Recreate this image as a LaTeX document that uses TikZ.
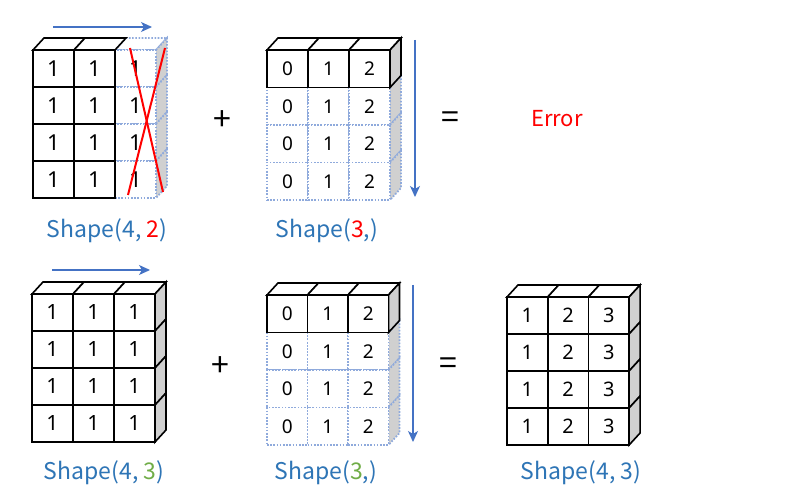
\documentclass[tikz,border=0pt]{standalone}
\usepackage{fontspec}
\setmainfont{Noto Sans CJK KR}
\newfontfamily\digitfont{Noto Sans}
\usetikzlibrary{arrows.meta}
\definecolor{lblue}{RGB}{46,117,182}
\definecolor{arrblue}{RGB}{68,114,196}
\definecolor{dotblue}{RGB}{143,170,220}
\definecolor{sidegray}{RGB}{208,208,208}
\definecolor{okgreen}{RGB}{112,173,71}
\newcommand{\cellfont}{\digitfont\fontsize{19}{19}\selectfont}
% #1 name, #2 x, #3 y, #4 w, #5 h, #6 text, #7 line style, #8 top flag, #9 side flag
\newcommand{\cubecell}[9]{%
  \ifnum#8=1 \draw[#7, fill=white] (#2,#3) -- ++(11,-12) -- ++(#4,0) -- ++(-11,12) -- cycle;\fi
  \ifnum#9=1 \draw[#7, fill=sidegray] ({#2+#4},#3) -- ++(11,-12) -- ++(0,#5) -- ++(-11,12) -- cycle;\fi
  \node[cellbox, #7, minimum width=#4pt, minimum height=#5pt] (#1) at (#2,#3) {#6};%
}
\begin{document}
\begin{tikzpicture}[x=1pt,y=-1pt,
  solidln/.style={draw=black, line width=1.6pt, line join=miter},
  dotln/.style={draw=dotblue, line width=1.8pt, dash pattern=on 1.6pt off 1.6pt},
  cellbox/.style={fill=white, inner sep=0pt, outer sep=0pt, anchor=north west, font=\cellfont, text=black},
  arr/.style={draw=arrblue, line width=1.2pt, -{Stealth[length=11pt,width=10pt,inset=3pt]}},
  lab/.style={text=lblue, font=\fontsize{23}{23}\selectfont, anchor=base},
  sym/.style={font=\fontsize{32}{32}\selectfont, text=black},
  cross/.style={draw=red, line width=2pt}]
\useasboundingbox[fill=white] (0,0) rectangle (809,502);

% ---------- Block A : Shape(4,2) ----------
\renewcommand{\cellfont}{\digitfont\fontsize{22}{22}\selectfont}
\foreach \r in {0,...,3}{
  \pgfmathsetmacro\yy{50+\r*37}
  \pgfmathtruncatemacro\tp{\r==0}
  \cubecell{A\r2}{115}{\yy}{41}{37}{1}{dotln}{\tp}{1}
}
\foreach \r in {0,...,3}{
  \foreach \c in {0,1}{
    \pgfmathsetmacro\xx{33+\c*41}
    \pgfmathsetmacro\yy{50+\r*37}
    \pgfmathtruncatemacro\tp{\r==0}
    \cubecell{A\r\c}{\xx}{\yy}{41}{37}{1}{solidln}{\tp}{0}
  }
}
\coordinate (xa1) at (130,48); \coordinate (xa2) at (163,192);
\coordinate (xb1) at (165,48); \coordinate (xb2) at (128,195);
\draw[cross] (xa1) -- (xa2);
\draw[cross] (xb1) -- (xb2);
\coordinate (aA1) at (53,27); \coordinate (aA2) at (152,27);
\draw[arr] (aA1) -- (aA2);
\node[lab] (labA) at (107,238) {Shape(4, \textcolor{red}{2})};

% ---------- Block B : Shape(3,) ----------
\renewcommand{\cellfont}{\digitfont\fontsize{19}{19}\selectfont}
\foreach \r in {1,2,3}{
  \foreach \c in {0,1,2}{
    \pgfmathsetmacro\xx{267+\c*41}
    \pgfmathsetmacro\yy{50+\r*37.5}
    \pgfmathtruncatemacro\sd{\c==2}
    \cubecell{B\r\c}{\xx}{\yy}{41}{37.5}{\c}{dotln}{0}{\sd}
  }
}
\foreach \c in {0,1,2}{
  \pgfmathsetmacro\xx{267+\c*41}
  \pgfmathtruncatemacro\sd{\c==2}
  \cubecell{B0\c}{\xx}{50}{41}{37.5}{\c}{solidln}{1}{\sd}
}
\coordinate (aB1) at (415,40); \coordinate (aB2) at (415,197);
\draw[arr] (aB1) -- (aB2);
\node[lab] (labB) at (327,238) {Shape(\textcolor{red}{3},)};

\node[sym] (plus1) at (222,121) {+};
\node[sym] (eq1) at (450,120) {=};
\node[text=red, font=\fontsize{22}{22}\selectfont] (err) at (557,119) {Error};

% ---------- Block C : Shape(4,3) ----------
\renewcommand{\cellfont}{\digitfont\fontsize{21}{21}\selectfont}
\foreach \r in {0,...,3}{
  \foreach \c in {0,1,2}{
    \pgfmathsetmacro\xx{32+\c*41}
    \pgfmathsetmacro\yy{294+\r*37}
    \pgfmathtruncatemacro\tp{\r==0}
    \pgfmathtruncatemacro\sd{\c==2}
    \cubecell{C\r\c}{\xx}{\yy}{41}{37}{1}{solidln}{\tp}{\sd}
  }
}
\coordinate (aC1) at (52,270); \coordinate (aC2) at (150,270);
\draw[arr] (aC1) -- (aC2);
\node[lab] (labC) at (104,480) {Shape(4, \textcolor{okgreen}{3})};

% ---------- Block D : Shape(3,) ----------
\renewcommand{\cellfont}{\digitfont\fontsize{19}{19}\selectfont}
\foreach \r in {1,2,3}{
  \foreach \c in {0,1,2}{
    \pgfmathsetmacro\xx{267+\c*40.5}
    \pgfmathsetmacro\yy{295+\r*37.5}
    \pgfmathtruncatemacro\sd{\c==2}
    \cubecell{D\r\c}{\xx}{\yy}{40.5}{37.5}{\c}{dotln}{0}{\sd}
  }
}
\foreach \c in {0,1,2}{
  \pgfmathsetmacro\xx{267+\c*40.5}
  \pgfmathtruncatemacro\sd{\c==2}
  \cubecell{D0\c}{\xx}{295}{40.5}{37.5}{\c}{solidln}{1}{\sd}
}
\coordinate (aD1) at (413,285); \coordinate (aD2) at (413,442);
\draw[arr] (aD1) -- (aD2);
\node[lab] (labD) at (326,480) {Shape(\textcolor{okgreen}{3},)};

\node[sym] (plus2) at (220,367) {+};
\node[sym] (eq2) at (448,366) {=};

% ---------- Block E : result Shape(4,3) ----------
\renewcommand{\cellfont}{\digitfont\fontsize{20}{20}\selectfont}
\foreach \r in {0,...,3}{
  \foreach \c in {0,1,2}{
    \pgfmathsetmacro\xx{507+\c*40.7}
    \pgfmathsetmacro\yy{297+\r*37}
    \pgfmathtruncatemacro\tp{\r==0}
    \pgfmathtruncatemacro\sd{\c==2}
    \pgfmathtruncatemacro\vv{\c+1}
    \cubecell{E\r\c}{\xx}{\yy}{40.7}{37}{\vv}{solidln}{\tp}{\sd}
  }
}
\node[lab] (labE) at (581,480) {Shape(4, 3)};
\end{tikzpicture}
\end{document}
